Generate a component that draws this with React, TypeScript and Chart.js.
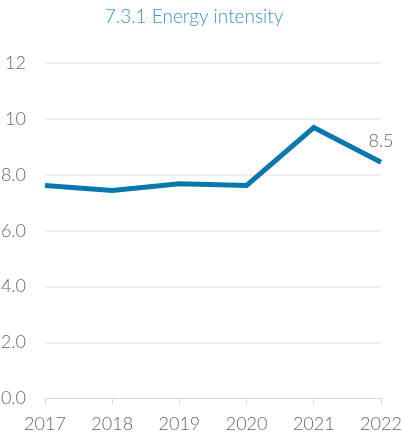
import React, { useEffect, useRef } from "react";
import { Chart, registerables } from "chart.js";

Chart.register(...registerables);

const title = "7.3.1 Energy intensity";
const years = ["2017", "2018", "2019", "2020", "2021", "2022"];
const intensity = [7.62, 7.44, 7.68, 7.62, 9.69, 8.45];
const pointLabels = ["", "", "", "", "", "8.5"];
const yTicks = [0, 2, 4, 6, 8, 10, 12];

const FONT = "Lato";

const overlayPlugin = {
  id: "overlay",
  afterDraw(chart: any) {
    const ctx = chart.ctx;
    ctx.save();
    ctx.font = `300 19px ${FONT}`;
    ctx.fillStyle = "#3b94c4";
    ctx.textAlign = "center";
    ctx.textBaseline = "middle";
    ctx.fillText(title, 194, 17);
    const meta = chart.getDatasetMeta(0);
    ctx.font = `300 18px ${FONT}`;
    ctx.fillStyle = "#666666";
    ctx.textBaseline = "alphabetic";
    meta.data.forEach((pt: any, i: number) => {
      const lbl = pointLabels[i];
      if (lbl) ctx.fillText(lbl, pt.x, pt.y - 15);
    });
    ctx.restore();
  },
};

export default function App() {
  const ref = useRef<HTMLCanvasElement>(null);
  useEffect(() => {
    document.body.style.margin = "0";
    const chart = new Chart(ref.current!, {
      type: "line",
      data: {
        labels: years,
        datasets: [
          {
            data: intensity,
            borderColor: "#0a78ad",
            borderWidth: 5,
            pointRadius: 0,
            tension: 0,
            fill: false,
          },
        ],
      },
      options: {
        responsive: false,
        animation: false,
        layout: { padding: { top: 63, right: 22, left: 0, bottom: 0 } },
        plugins: { legend: { display: false }, tooltip: { enabled: false } },
        scales: {
          x: {
            offset: false,
            grid: {
              display: true,
              drawOnChartArea: false,
              drawTicks: true,
              tickLength: 6,
              color: "#d9d9d9",
            },
            border: { display: true, color: "#d9d9d9", width: 1 },
            ticks: {
              color: "#666666",
              font: { family: FONT, size: 18, weight: 300 },
              padding: 9,
              maxRotation: 0,
              autoSkip: false,
            },
            afterFit: (s: any) => {
              s.height = 42.5;
              s.paddingRight = 0;
              s.paddingLeft = 0;
            },
          },
          y: {
            min: 0,
            max: 12,
            afterBuildTicks: (s: any) => {
              s.ticks = yTicks.map((v) => ({ value: v }));
            },
            grid: {
              drawTicks: false,
              lineWidth: 2,
              color: (c: any) => (c.tick && c.tick.value === 0 ? "rgba(0,0,0,0)" : "#efefef"),
            },
            border: { display: false },
            ticks: {
              color: "#666666",
              font: { family: FONT, size: 18, weight: 300 },
              padding: 19,
              callback: (v: any) => (Number(v) < 10 ? Number(v).toFixed(1) : String(v)),
            },
            afterFit: (s: any) => {
              s.width = 45;
              s.paddingTop = 0;
              s.paddingBottom = 0;
            },
          },
        },
      },
      plugins: [overlayPlugin],
    });
    return () => chart.destroy();
  }, []);
  return <canvas ref={ref} width={403} height={441} style={{ display: "block" }} />;
}
